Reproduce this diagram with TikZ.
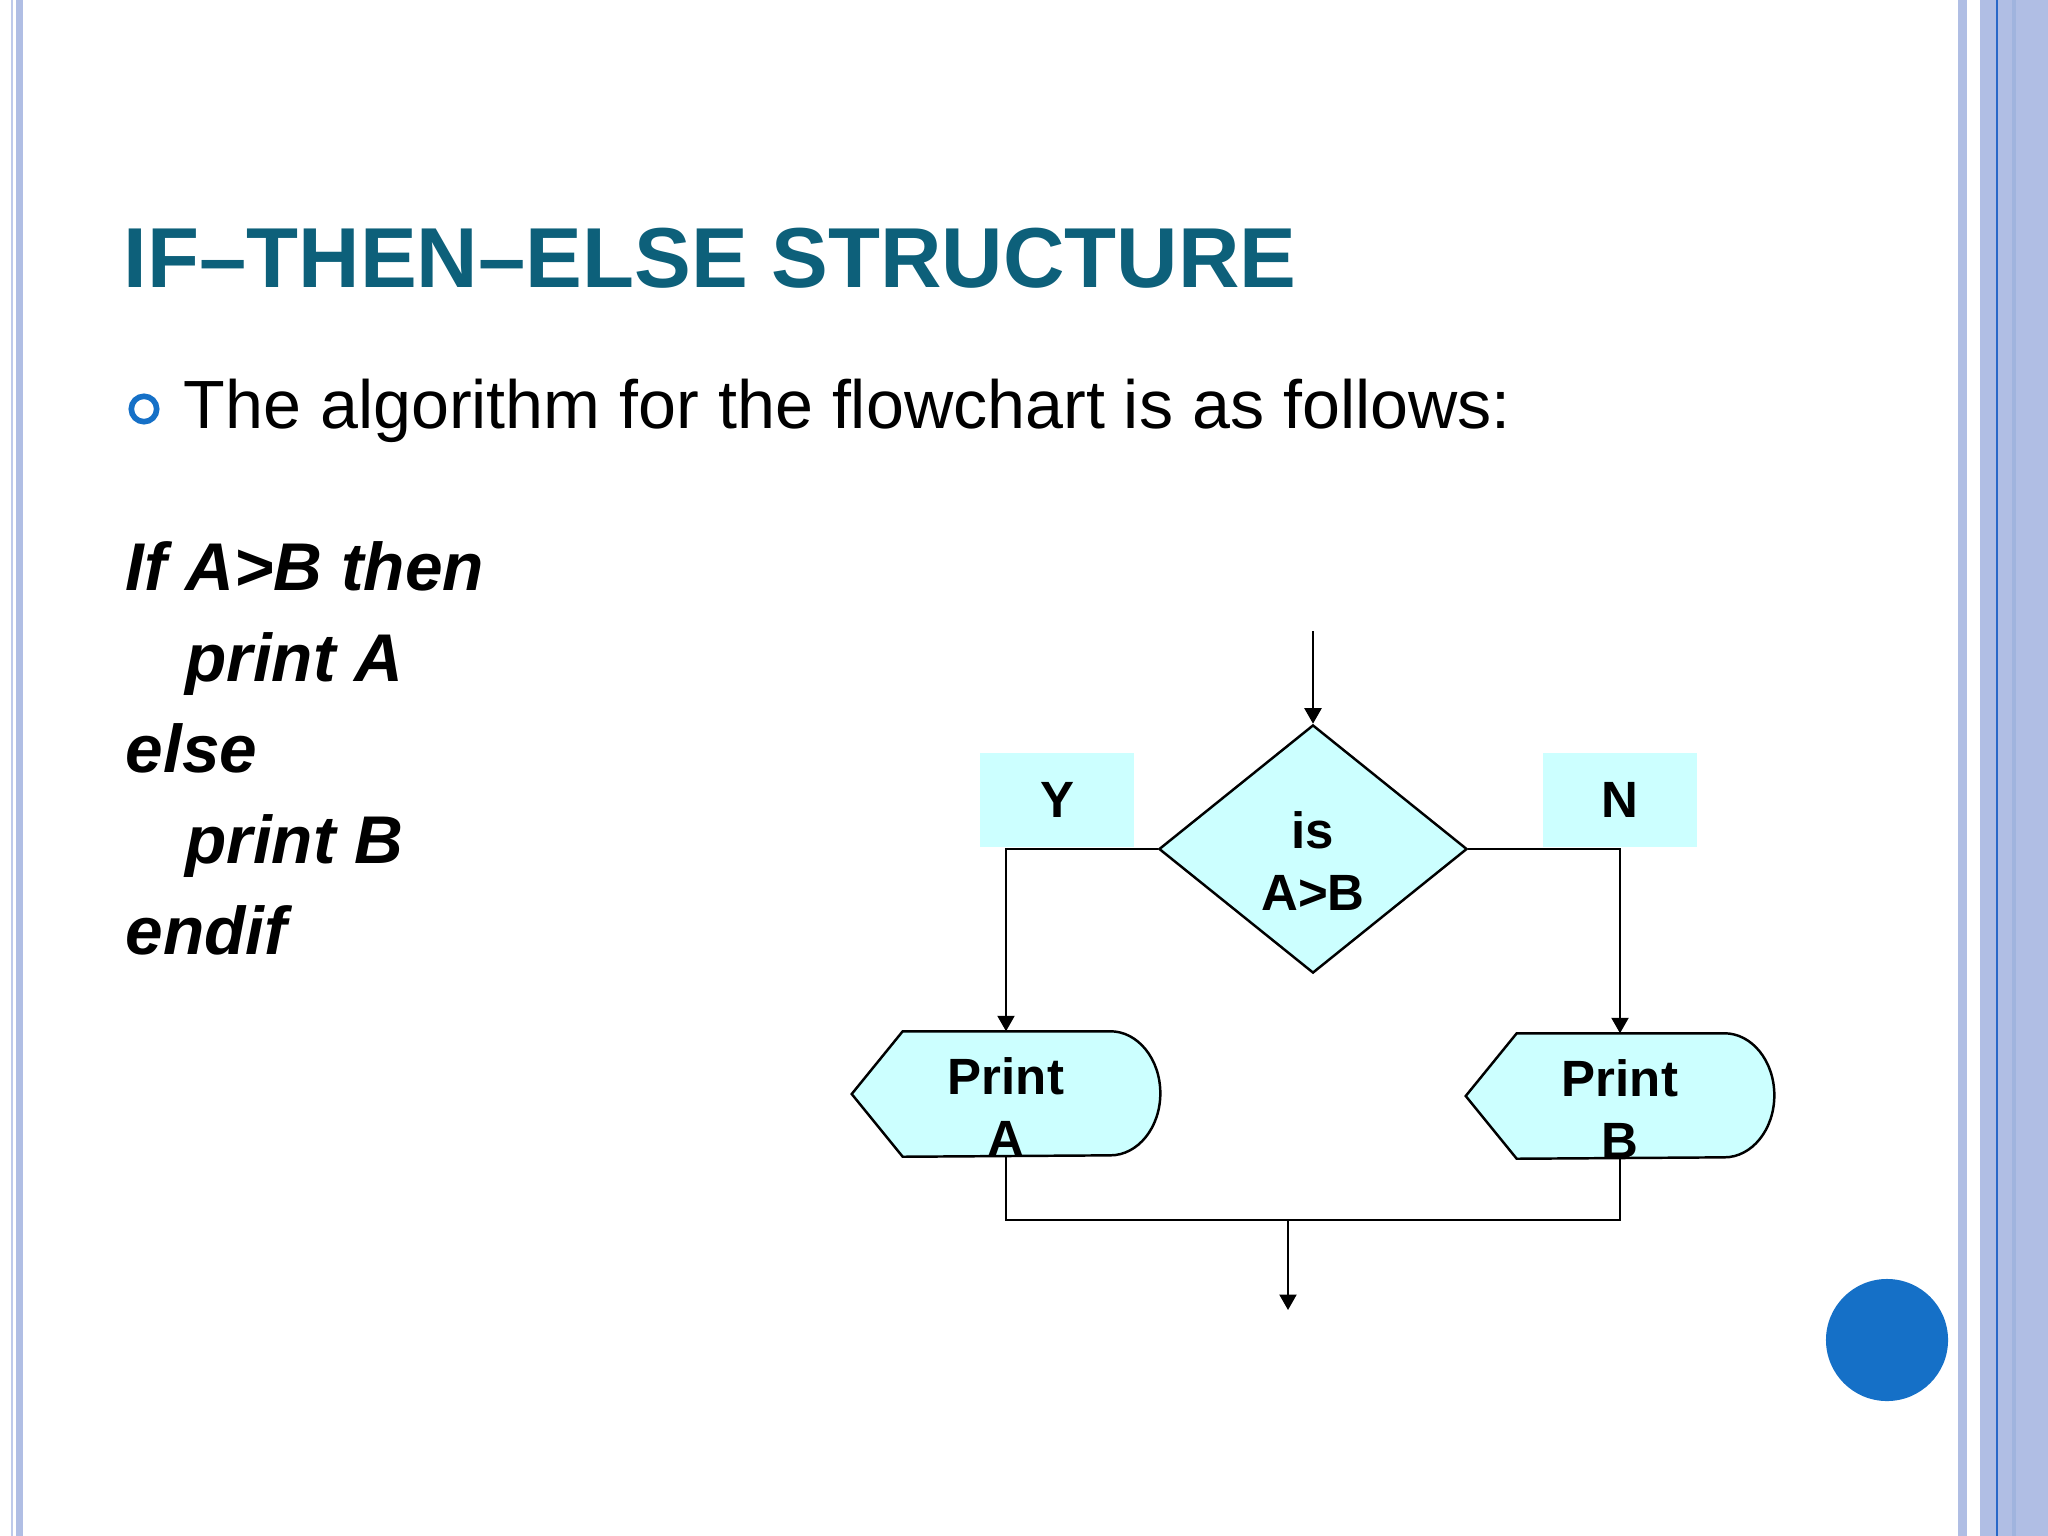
\documentclass[tikz,border=0pt]{standalone}
\usepackage{fontspec}
\setmainfont{Liberation Sans}
\usepackage{xcolor}
\usetikzlibrary{shapes.geometric,arrows.meta,positioning,calc}

\definecolor{titleteal}{RGB}{13,96,122}
\definecolor{chartcyan}{RGB}{204,255,255}
\definecolor{dotblue}{RGB}{21,112,199}
\definecolor{edgeblue}{RGB}{176,190,228}
\definecolor{edgelight}{RGB}{190,202,234}
\definecolor{edgedark}{RGB}{40,104,200}
\definecolor{edgemid}{RGB}{160,180,222}

\begin{document}
\begin{tikzpicture}[x=0.01cm, y=-0.01cm,
    line/.style={line width=0.7pt},
    arr/.style={line width=0.7pt, -{Triangle[length=4.4pt,width=4.8pt]}},
    decision/.style={diamond, draw, line width=0.7pt, fill=chartcyan, minimum width=3.08cm, minimum height=2.48cm, inner sep=0pt},
    tagbox/.style={fill=chartcyan, minimum width=1.53cm, minimum height=0.94cm, inner sep=0pt, font=\fontsize{14.5}{17.5}\selectfont\bfseries},
    displaybox/.style={minimum width=3.07cm, minimum height=1.24cm, inner sep=0pt},
    fctext/.style={align=center, inner sep=0pt, font=\fontsize{14.5}{17.5}\selectfont\bfseries},
    codeline/.style={anchor=base west, inner sep=0pt, font=\fontsize{19.2}{24}\selectfont\bfseries\itshape}]

    % Slide background and side stripes
    \fill[white] (0,0) rectangle (2048,1536);
    \useasboundingbox (0,0) rectangle (2048,1536);
    \fill[edgelight] (10.7,0) rectangle (13,1536);
    \fill[edgeblue] (15.7,0) rectangle (23.3,1536);
    \fill[edgeblue] (1958,0) rectangle (1967,1536);
    \fill[edgeblue] (1980,0) rectangle (2048,1536);
    \fill[edgedark] (1995.7,0) rectangle (1997.7,1536);
    \fill[edgemid] (2011.7,0) rectangle (2016,1536);

    % Heading and bullet
    \node[anchor=base west, inner sep=0pt, text=titleteal, font=\fontsize{24.2}{29}\selectfont\bfseries] (title) at (123,287) {IF--THEN--ELSE STRUCTURE};
    \draw[dotblue, line width=1.6pt] (144,409) circle[radius=0.127cm];
    \node[anchor=base west, inner sep=0pt, font=\fontsize{19.4}{24}\selectfont] (intro) at (183,428) {The algorithm for the flowchart is as follows:};

    % Pseudo code
    \foreach \dx/\txt [count=\i] in {0/If A>B then, 60/print A, 0/else, 60/print B, 0/endif} {
        \node[codeline] (code\i) at ({125+\dx}, {590+91*(\i-1)}) {\txt};
    }

    % Y / N tags
    \node[tagbox] (ytag) at (1057,800) {Y};
    \node[tagbox] (ntag) at (1620,800) {N};

    % Decision
    \coordinate (entry) at (1313,631);
    \node[decision] (dec) at (1313,849) {};
    \node[fctext] (dectext) at ($(dec)+(0,12)$) {is\\A>B};

    % Print boxes
    \node[displaybox] (pa) at (1006,1094) {};
    \node[displaybox] (pb) at (1620,1096) {};
    \foreach \n in {pa,pb} {
        \draw[line, fill=chartcyan] (\n.west) -- ($(\n.north west)+(51,0)$) -- ($(\n.north east)+(-50,0)$)
            arc[start angle=90, end angle=-90, x radius=0.5cm, y radius=0.62cm] -- ($(\n.south west)+(51,0)$) -- cycle;
    }
    \node[fctext] (patext) at ($(pa)+(0,13)$) {Print\\A};
    \node[fctext] (pbtext) at ($(pb)+(0,13)$) {Print\\B};

    % Connectors
    \coordinate (merge) at (1288,1220);
    \coordinate (exit) at (1288,1310);
    \draw[arr] (entry) -- (dec.north);
    \draw[arr] (dec.west) -| (pa.north);
    \draw[arr] (dec.east) -| (pb.north);
    \draw[line] (pa.south) |- (merge) -| (pb.south);
    \draw[arr] (merge) -- (exit);

    % Round marker
    \fill[dotblue] (1887,1340) circle[radius=0.61cm];
\end{tikzpicture}
\end{document}
